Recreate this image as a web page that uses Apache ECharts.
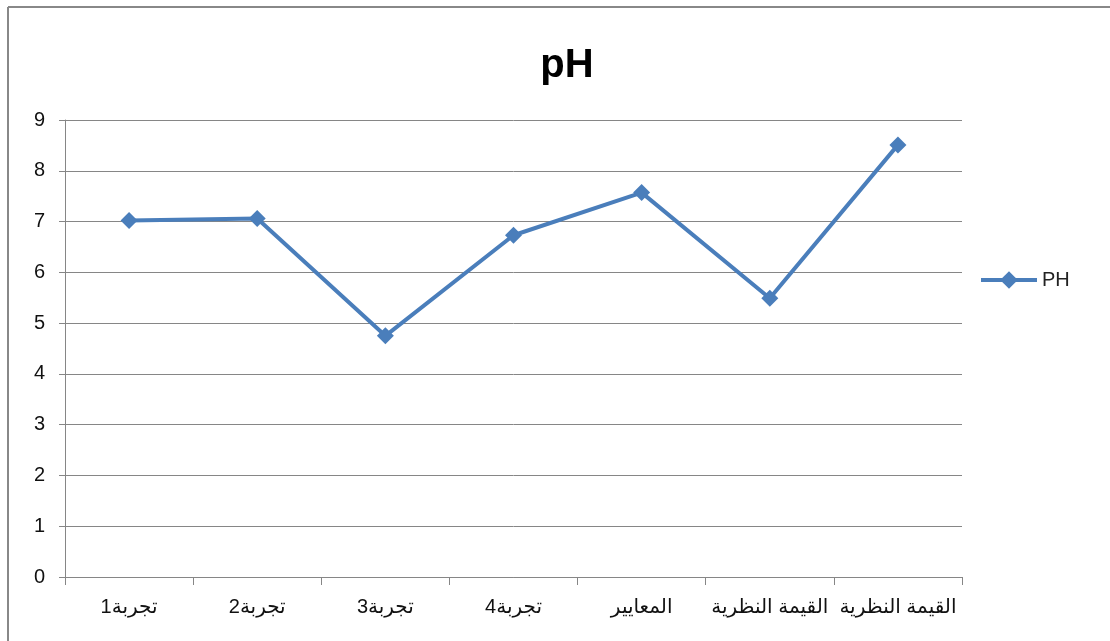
<!DOCTYPE html>
<html lang="ar">
<head>
    <meta charset="UTF-8">
    <title>pH</title>
    <script src="https://cdn.jsdelivr.net/npm/echarts@6/dist/echarts.min.js"></script>
    <style>
        html, body { margin: 0; padding: 0; background: #fff; }
    </style>
</head>
<body>
<div id="main" style="width: 1110px;height:641px;"></div>

<script type="text/javascript">
    // بيانات المنحنى
    var categories = ['تجربة1', 'تجربة2', 'تجربة3', 'تجربة4', 'المعايير', 'القيمة النظرية', 'القيمة النظرية'];
    var phValues = [7.02, 7.06, 4.75, 6.73, 7.57, 5.49, 8.51];
    var yTicks = [0, 1, 2, 3, 4, 5, 6, 7, 8, 9];

    var myChart = echarts.init(document.getElementById('main'));
    var fontFam = 'Arial, "Liberation Sans", "DejaVu Sans", sans-serif';

    myChart.setOption({
        animation: false,
        title: {
            text: 'pH',
            left: 562,
            textAlign: 'center',
            top: 41,
            textStyle: { fontSize: 40, fontWeight: 'bold', color: '#000', fontFamily: fontFam }
        },
        legend: {
            data: ['PH'],
            left: 974,
            top: 265,
            itemWidth: 56,
            itemHeight: 22,
            itemGap: 6,
            lineStyle: { width: 4 },
            textStyle: { fontSize: 20, color: '#222', fontFamily: fontFam }
        },
        grid: { left: 65, right: 148, top: 120, bottom: 64, containLabel: false },
        xAxis: {
            type: 'category',
            data: categories,
            boundaryGap: true,
            axisLine: { lineStyle: { color: '#868686', width: 1 } },
            axisTick: { show: true, length: 8, alignWithLabel: false, lineStyle: { color: '#868686' } },
            axisLabel: { interval: 0, margin: 20, fontSize: 20, color: '#111', fontFamily: fontFam }
        },
        yAxis: {
            type: 'value',
            min: yTicks[0],
            max: yTicks[yTicks.length - 1],
            interval: 1,
            axisLine: { show: true, lineStyle: { color: '#868686', width: 1 } },
            axisTick: { show: true, length: 6, lineStyle: { color: '#868686' } },
            axisLabel: { margin: 20, fontSize: 20, color: '#111', fontFamily: fontFam },
            splitLine: { lineStyle: { color: '#868686', width: 1 } }
        },
        graphic: [
            { type: 'line', shape: { x1: 8, y1: 7, x2: 1110, y2: 7 }, style: { stroke: '#888', lineWidth: 2 } },
            { type: 'line', shape: { x1: 8, y1: 7, x2: 8, y2: 641 }, style: { stroke: '#888', lineWidth: 2 } }
        ],
        series: [{
            name: 'PH',
            type: 'line',
            data: phValues,
            symbol: 'diamond',
            symbolSize: 17,
            lineStyle: { color: '#4A7EBB', width: 4 },
            itemStyle: { color: '#4A7EBB' }
        }]
    });
</script>
</body>
</html>
